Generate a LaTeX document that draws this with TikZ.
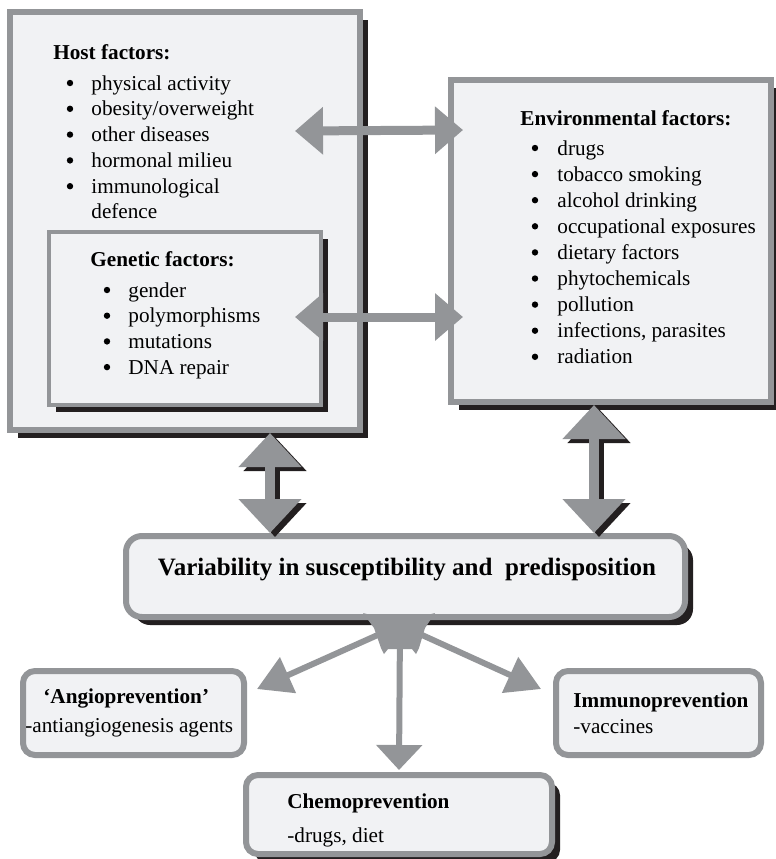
\documentclass[tikz,border=0pt]{standalone}
\usepackage{fontspec}
\setmainfont{Liberation Serif}
\usetikzlibrary{arrows.meta,shadows}

\definecolor{boxgray}{RGB}{147,149,152}
\definecolor{boxfill}{RGB}{241,242,244}
\definecolor{shadowblack}{RGB}{35,31,32}

\tikzset{
  factorbox/.style={draw=boxgray, line width=3pt, fill=boxfill, inner sep=0pt},
  boxshadow/.style={drop shadow={shadow xshift=#1, shadow yshift=-#1, fill=shadowblack, opacity=1}},
  head/.style={anchor=base west, inner sep=0pt, font=\fontsize{10.6}{13}\selectfont\bfseries},
  item/.style={anchor=base west, inner sep=0pt, font=\fontsize{10.6}{13}\selectfont},
  duoarrow/.style={draw=boxgray, line width=4.5pt,
    {Triangle[width=23pt,length=14pt]}-{Triangle[width=23pt,length=14pt]}},
  bigarrow/.style={draw=#1, line width=5pt,
    {Triangle[width=30.5pt,length=17pt]}-{Triangle[width=30.5pt,length=17pt]}},
  outarrow/.style={draw=boxgray, line width=3pt, -{Triangle[width=19pt,length=17pt]}}
}

\begin{document}
\begin{tikzpicture}[x=0.5pt, y=-0.5pt]
    \useasboundingbox (0,0) rectangle (776,859);

    % Factor boxes
    \node[factorbox, boxshadow=4pt, minimum width=175pt, minimum height=209pt] (host) at (185,221) {};
    \node[factorbox, line width=1.8pt, boxshadow=3.5pt, minimum width=136pt, minimum height=86.5pt] (genetic) at (185,318.5) {};
    \node[factorbox, boxshadow=4pt, minimum width=160pt, minimum height=161pt] (env) at (611,241) {};

    % Central box
    \node[factorbox, rounded corners=8pt, boxshadow=4pt, minimum width=279.5pt, minimum height=40.5pt] (var) at (405.5,576.5) {};

    % Prevention boxes
    \node[factorbox, rounded corners=6pt, minimum width=110.5pt, minimum height=42pt] (angio) at (133.5,713) {};
    \node[factorbox, rounded corners=6pt, minimum width=102.5pt, minimum height=42pt] (immuno) at (658.5,713) {};
    \node[factorbox, rounded corners=6pt, boxshadow=4pt, minimum width=153pt, minimum height=39.5pt] (chemo) at (399,814.5) {};

    % Arrow ends inside the boxes
    \coordinate (hostA) at (295,131);
    \coordinate (hostB) at (295,317);
    \coordinate (envA) at (463,130);
    \coordinate (envB) at (463,317);
    \coordinate (hub) at (400,625);

    % Host <-> environment
    \draw[duoarrow] (hostA) -- (envA);
    \draw[duoarrow] (hostB) -- (envB);

    % Boxes <-> variability (with shadow)
    \draw[bigarrow=shadowblack, transform canvas={xshift=2.5pt, yshift=-2pt}] (270,0 |- host.south) -- (270,0 |- var.north);
    \draw[bigarrow=boxgray] (270,0 |- host.south) -- (270,0 |- var.north);
    \draw[bigarrow=shadowblack, transform canvas={xshift=2.5pt, yshift=-2pt}] (594,0 |- env.south) -- (594,0 |- var.north);
    \draw[bigarrow=boxgray] (594,0 |- env.south) -- (594,0 |- var.north);

    % Variability -> prevention
    \draw[outarrow] (hub) -- ([xshift=5pt,yshift=12pt]angio.east);
    \draw[outarrow] (hub) -- ([xshift=-6pt,yshift=12pt]immuno.west);
    \draw[outarrow, -{Triangle[width=22.5pt,length=12.5pt]}] (hub) -- ([yshift=1pt]chemo.north);
    \fill[boxgray] (363,613) .. controls (385,619) and (413,619) .. (435,613) -- (425,628) -- (419,648)
        -- (416,654) -- (412,649) -- (388,649) -- (384,654) -- (381,648) -- (374,628) -- cycle;

    % Host factors
    \node[head] at (53,59) {Host factors:};
    \foreach \t [count=\i from 0] in {physical activity, obesity/overweight, other diseases, hormonal milieu, immunological}{
        \fill (70,83+25.8*\i) circle[radius=1.6pt];
        \node[item] at (91,90+25.8*\i) {\t};
    }
    \node[item] at (91,218) {defence};

    % Genetic factors
    \node[head] at (90,266) {Genetic factors:};
    \foreach \t [count=\i from 0] in {gender, polymorphisms, mutations, DNA repair}{
        \fill (107,290+25.7*\i) circle[radius=1.6pt];
        \node[item] at (128,297+25.7*\i) {\t};
    }

    % Environmental factors
    \node[head] at (520,125) {Environmental factors:};
    \foreach \t [count=\i from 0] in {drugs, tobacco smoking, alcohol drinking, occupational exposures,
        dietary factors, phytochemicals, pollution, {infections, parasites}, radiation}{
        \fill (535,148+26.1*\i) circle[radius=1.6pt];
        \node[item] at (557,155+26.1*\i) {\t};
    }

    % Central label
    \node[anchor=base, inner sep=0pt, font=\fontsize{12.5}{15}\selectfont\bfseries] at (407,575)
        {Variability in susceptibility and~ predisposition};

    % Prevention labels
    \node[head] at (43,703) {`Angioprevention'};
    \node[item] at (25,732) {-antiangiogenesis agents};
    \node[head] at (573,707) {Immunoprevention};
    \node[item] at (573,733) {-vaccines};
    \node[head] at (287,808) {Chemoprevention};
    \node[item] at (287,842) {-drugs, diet};
\end{tikzpicture}
\end{document}
